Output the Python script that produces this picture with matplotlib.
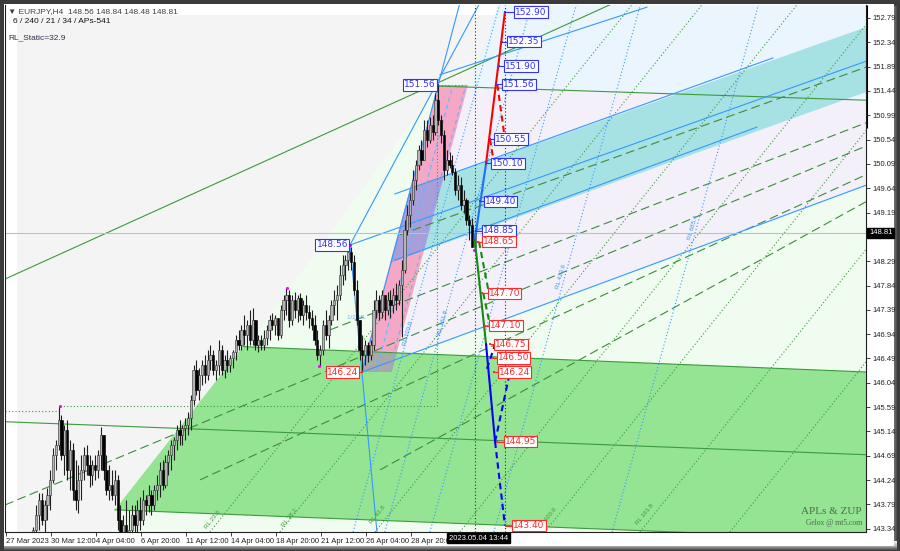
import numpy as np
import matplotlib
matplotlib.use("Agg")
import matplotlib.pyplot as plt
from matplotlib.patches import Polygon, Rectangle
from matplotlib.colors import LinearSegmentedColormap

plt.rcParams['font.family'] = ['Liberation Sans', 'DejaVu Sans']

# ---------------- data ----------------
first_open = 143.00
close = [143.05,143.12,143.00,143.10,143.18,143.08,143.15,143.05,143.20,143.32,
 143.60,143.875,143.51,143.78,143.97,144.245,144.71,144.89,145.355,144.71,
 145.17,144.43,144.80,144.06,143.875,144.245,144.43,144.71,144.52,144.34,
 144.52,144.43,144.71,145.08,144.43,144.06,144.15,143.97,144.245,143.51,
 143.23,143.41,143.23,143.32,143.60,143.41,143.69,143.51,143.875,143.78,
 143.97,143.78,144.06,144.15,144.43,144.15,144.58,144.71,144.89,144.985,
 145.17,145.08,145.21,145.26,145.39,145.725,146.28,145.91,146.19,146.37,
 146.19,146.465,146.56,146.28,146.37,146.65,146.28,146.465,146.37,146.50,
 146.61,146.835,146.74,147.02,146.93,147.11,146.835,147.205,146.74,146.835,
 146.74,146.87,147.02,147.205,147.11,147.24,146.93,147.39,147.575,147.67,
 147.205,147.575,147.39,147.61,147.30,147.48,147.35,147.24,147.11,146.835,
 146.56,146.65,147.11,146.93,147.205,147.48,147.575,147.67,148.04,148.22,
 148.31,148.46,148.28,147.76,147.205,146.65,146.56,146.74,146.56,146.74,
 147.39,147.575,147.35,147.67,147.39,147.575,147.48,147.67,147.575,147.85,
 148.13,148.87,149.15,149.42,149.79,150.07,150.35,150.16,150.72,150.53,
 150.81,150.68,151.27,150.90,150.63,149.98,150.16,150.07,149.94,149.61,
 149.70,149.33,149.42,149.05,148.96,148.56,148.81]
high = [143.20,143.22,143.15,143.22,143.26,143.20,143.24,143.18,143.26,143.38,
 143.78,144.01,144.01,143.875,144.10,144.43,144.84,144.985,145.61,145.45,
 145.26,145.355,144.985,144.93,144.615,144.52,144.71,144.86,144.89,144.71,
 144.615,144.71,144.80,145.23,145.08,144.71,144.52,144.43,144.43,144.34,
 143.78,143.60,143.875,143.69,143.78,143.78,143.875,143.93,144.06,143.97,
 144.15,144.06,144.15,144.34,144.58,144.615,144.71,144.80,144.985,145.04,
 145.26,145.355,145.26,145.39,145.50,145.82,146.37,146.465,146.32,146.465,
 146.56,146.65,146.74,146.65,146.465,146.835,146.74,146.56,146.65,146.56,
 146.65,146.93,147.02,147.11,147.30,147.205,147.39,147.43,147.205,146.93,
 146.93,147.02,147.11,147.30,147.33,147.30,147.24,147.48,147.67,147.80,
 147.76,147.67,147.72,147.67,147.70,147.575,147.67,147.48,147.39,147.30,
 147.02,146.74,147.205,147.39,147.30,147.575,147.76,147.85,148.22,148.41,
 148.41,148.54,148.56,148.41,147.945,147.205,146.93,146.835,146.80,146.835,
 147.575,147.76,147.67,147.76,147.67,147.72,147.76,147.80,147.89,147.945,
 148.31,149.05,149.33,149.55,149.98,150.16,150.44,150.53,150.90,150.90,
 150.96,151.00,151.40,151.56,151.00,150.72,150.35,150.31,150.26,150.02,
 149.89,149.85,149.61,149.46,149.15,149.09,148.84]
low = [142.90,142.95,142.85,142.92,143.00,142.95,142.98,142.90,143.00,143.05,
 143.14,143.32,143.41,143.23,143.51,143.69,144.19,144.43,144.80,144.615,
 144.34,144.245,144.06,143.875,143.69,143.64,143.875,144.245,144.34,144.12,
 144.15,144.245,144.28,144.43,144.245,143.97,143.875,143.875,143.78,143.32,
 143.04,143.04,143.14,143.04,143.14,143.23,143.14,143.32,143.41,143.60,
 143.65,143.60,143.69,143.875,143.93,144.06,144.10,144.34,144.43,144.615,
 144.80,144.89,144.89,144.985,145.08,145.17,145.63,145.82,145.725,146.00,
 146.04,146.095,146.28,146.19,146.095,146.19,146.19,146.13,146.24,146.24,
 146.32,146.465,146.65,146.65,146.74,146.65,146.74,146.74,146.65,146.61,
 146.65,146.65,146.74,146.835,147.02,146.93,146.835,146.87,147.205,147.30,
 147.08,147.11,147.24,147.17,147.205,147.11,147.205,147.06,147.02,146.74,
 146.465,146.35,146.56,146.835,146.69,147.11,147.30,147.205,147.575,147.85,
 147.945,148.13,148.13,147.67,147.11,146.465,146.24,146.37,146.43,146.465,
 146.65,147.24,147.205,147.24,147.205,147.30,147.24,147.33,147.39,147.48,
 146.89,148.07,148.78,148.92,149.33,149.61,149.98,150.07,150.16,150.41,
 150.48,150.53,150.63,150.81,150.48,149.79,149.89,150.02,149.89,149.52,
 149.42,149.24,149.18,148.96,148.68,148.555,148.48]

price_ticks = [143.34,143.79,144.24,144.69,145.14,145.59,146.04,146.49,146.94,147.39,
               147.84,148.29,148.74,149.19,149.64,150.09,150.54,150.99,151.44,151.89,
               152.34,152.79]
hidden_tick = 148.74   # covered by the current-price box
time_ticks = [-0.7, 15.3, 31.3, 47.3, 63.3, 79.3, 95.3, 111.3, 127.3, 143.3]
time_labels = ['27 Mar 2023', '30 Mar 12:00', '4 Apr 04:00', '6 Apr 20:00', '11 Apr 12:00',
               '14 Apr 04:00', '18 Apr 20:00', '21 Apr 12:00', '26 Apr 04:00', '28 Apr 20:00']
last_price = 148.81
x_range = (-1.07, 305.1)
y_range = (143.28, 153.03)

# zones (bar, price)
zone_grey = [(3.2, 142.9), (3.2, 152.85), (310, 152.85), (310, 142.9)]
zone_lightgreen = [(30.9, 142.9), (152.9, 151.53), (310, 151.53), (310, 142.9)]
zone_lavender = [(138.3, 146.50), (163.6, 151.53), (310, 151.26), (310, 149.79)]
zone_lightblue = [(163.6, 151.53), (175.0, 153.1), (310, 153.1), (310, 151.26)]
zone_green = [(38.0, 143.69), (83.6, 146.71), (310, 146.23), (310, 143.13)]
zone_cyan = [(143.0, 149.635), (310, 152.71), (310, 151.51), (135.9, 148.26)]
zone_pink = [(127.3, 146.60), (138.3, 146.60), (163.6, 151.55), (152.9, 151.55)]
zone_grey_box = [(125.5, 146.24), (136.5, 146.24), (138.3, 146.60), (127.3, 146.60)]

green_solid = [[(-1.07, 147.96), (216, 153.08)],
               [(152.9, 151.53), (310, 151.26)],
               [(83.6, 146.71), (310, 146.23)],
               [(-1.07, 145.32), (310, 144.70)],
               [(38.0, 143.69), (310, 143.13)]]
green_dotted = [[(-1.07, 145.52), (18.5, 145.52)],
                [(18.5, 145.61), (152.5, 145.61)],
                [(152.5, 145.61), (152.5, 151.53)],
                [(152.9, 151.55), (163.6, 151.55)],
                [(71.8, 143.28), (221.8, 153.03)],
                [(96.7, 143.28), (246.7, 153.03)],
                [(130.5, 143.28), (280.5, 153.03)],
                [(160.7, 143.28), (310.7, 153.03)],
                [(190.9, 143.28), (340.9, 153.03)],
                [(224.7, 143.28), (374.7, 153.03)],
                [(256.7, 143.28), (406.7, 153.03)]]
green_dashed = [[(139.4, 148.78), (305.1, 151.88)],
                [(114.5, 147.02), (305.1, 150.85)],
                [(-1.07, 143.78), (305.1, 150.42)],
                [(68.3, 144.245), (305.1, 149.89)],
                [(132.3, 144.43), (305.1, 149.39)]]
blue_solid = [[(125.9, 146.24), (160.5, 153.03)],
              [(121.6, 148.59), (167.4, 153.03)],
              [(121.6, 148.59), (131.2, 143.28)],
              [(121.6, 148.59), (310, 152.08)],
              [(137.6, 149.535), (272.0, 152.05)],
              [(137.6, 148.31), (266.3, 150.77)],
              [(125.9, 146.24), (310, 149.79)],
              [(153.6, 151.74), (227.2, 152.99)]]
blue_dotted = [[(122.7, 143.28), (174.75, 153.03)],
               [(134.0, 143.28), (186.05, 153.03)],
               [(150.0, 143.28), (202.05, 153.03)],
               [(172.8, 143.28), (224.85, 153.03)],
               [(214.8, 143.28), (266.85, 153.03)]]
blue_dashed = [[(130.8, 146.24), (158.2, 151.55)],
               [(135.4, 146.24), (162.8, 151.55)]]

# zigzag projection legs
zz_blue_up = [(166.0, 148.68), (170.0, 150.10)]
zz_red_up = [(170.0, 150.10), (176.7, 152.90)]
zz_red_dashed = [[(171.4, 150.55), (172.8, 150.10)], [(174.0, 151.56), (176.7, 150.55)]]
zz_green_down = [(166.0, 148.68), (170.0, 146.75)]
zz_green_dashed = [[(167.5, 148.65), (171.0, 147.70)], [(169.0, 147.70), (171.4, 147.10)]]
zz_blue_down = [(170.0, 146.75), (173.2, 144.95)]
zz_blue_dashed = [[(173.2, 144.95), (176.7, 143.40)], [(173.2, 144.95), (178.5, 146.24)],
                  [(170.3, 146.30), (173.2, 146.75)]]

# level labels: (text, anchor bar, label bar, price, colour)
level_labels = [('152.90', 176.7, 180.3, 152.90, 'b'), ('152.35', 175.5, 177.8, 152.35, 'b'),
                ('151.90', 174.5, 176.7, 151.90, 'b'), ('151.56', 173.7, 176.0, 151.56, 'b'),
                ('150.55', 171.5, 173.2, 150.55, 'b'), ('150.10', 170.0, 172.1, 150.10, 'b'),
                ('149.40', 168.0, 169.6, 149.40, 'b'), ('148.85', 166.3, 168.9, 148.85, 'b'),
                ('148.65', 167.0, 168.9, 148.65, 'r'), ('147.70', 168.5, 171.0, 147.70, 'r'),
                ('147.10', 169.5, 171.4, 147.10, 'r'), ('146.75', 171.5, 173.2, 146.75, 'r'),
                ('146.50', 172.5, 174.2, 146.50, 'r'), ('146.24', 172.7, 174.6, 146.24, 'r'),
                ('144.95', 174.0, 176.7, 144.95, 'r'), ('143.40', 177.0, 179.6, 143.40, 'r')]
left_labels = [('151.56', 152.9, 152.2, 151.55, 'b'), ('148.56', 121.6, 120.9, 148.59, 'b'),
               ('146.24', 125.9, 124.4, 146.24, 'r')]
swing_points = [(18.5, 145.61), (99.2, 147.80), (110.6, 146.35), (121.6, 148.59), (165.7, 148.50)]

rl_texts = [('RL 423.6', 196.6, 148.00, 74, '#3399ff'), ('RL 685.4', 243.6, 148.91, 74, '#3399ff'),
            ('RL 100.0', 142.2, 146.96, 74, '#3399ff'), ('RL 161.8', 154.7, 147.15, 74, '#3399ff'),
            ('RL 23.6', 72.9, 143.51, 51, '#3c9a3c'), ('RL 38.2', 100.3, 143.54, 51, '#3c9a3c'),
            ('RL 61.8', 131.6, 143.60, 51, '#3c9a3c'), ('RL 100.0', 192.0, 143.54, 51, '#3c9a3c'),
            ('RL 161.8', 226.5, 143.60, 51, '#3c9a3c'), ('1/2 ML', 124.0, 147.25, 0, '#66b3ff')]

# ---------------- figure ----------------
W, H = 900, 551
fig = plt.figure(figsize=(9.0, 5.51), dpi=100)
fig.patch.set_facecolor('#3b3b3b')

bg = fig.add_axes([0, 0, 1, 1], zorder=0)
bg.axis('off')
bg.add_patch(Rectangle((4, 4), 890, 542, fc='white', ec='none'))
g = np.linspace(0, 1, 64)
cm_r = LinearSegmentedColormap.from_list('r', ['#f6f6f6', '#d6d6d6', '#909090', '#4a4a4a'])
bg.imshow(g[None, :], extent=(883, 897, 548, 6), cmap=cm_r, aspect='auto')
cm_b = LinearSegmentedColormap.from_list('b', ['#f0f0f0', '#bcbcbc', '#4a4a4a'])
bg.imshow(g[:, None], extent=(4, 897, 550, 541), cmap=cm_b, aspect='auto')
bg.plot([866, 866], [5, 128], color='black', lw=2.2, solid_capstyle='butt')
bg.set_xlim(0, W); bg.set_ylim(H, 0)

ax = fig.add_axes([5 / W, 19 / H, 861 / W, 527 / H], zorder=1)
ax.set_xlim(*x_range); ax.set_ylim(*y_range)
ax.set_facecolor('white')

def poly(pts, fc, z, **kw):
    p = Polygon(pts, closed=True, fc=fc, ec='none', zorder=z, **kw)
    ax.add_patch(p)
    return p

poly(zone_grey, '#f4f4f4', 0.1)
poly(zone_lightgreen, '#effcef', 0.2)
poly(zone_lavender, '#f3f0f9', 0.3)
poly(zone_lightblue, '#ebf5fd', 0.3)
poly(zone_green, '#94e494', 0.4)
poly(zone_cyan, '#a6e2e4', 0.5)
pink = poly(zone_pink, '#f5a8c6', 0.6)
purple = poly(zone_cyan, '#a89ed9', 0.7)
purple.set_clip_path(pink)
poly(zone_grey_box, '#a9a9a9', 0.6)

def segs(lst, **kw):
    for s in lst:
        xs, ys = zip(*s)
        ax.plot(xs, ys, **kw)

segs(green_solid, color='#3c9a3c', lw=0.8, zorder=1)
segs(green_dotted, color='#3c9a3c', lw=0.8, ls=(0, (1, 2)), zorder=1)
segs(green_dashed, color='#3c8c3c', lw=0.8, ls=(0, (8, 4)), zorder=1)
segs(blue_solid, color='#3399ff', lw=0.8, zorder=1.1)
segs(blue_dotted, color='#3399ff', lw=0.8, ls=(0, (1, 2)), zorder=1.1)
segs(blue_dashed, color='#66b3ff', lw=0.8, ls=(0, (4, 3)), zorder=1.1)

ax.axhline(last_price, color='#c0c0c0', lw=0.8, zorder=1.2)
for xv in (166.0, 176.7):
    ax.axvline(xv, color='#303030', lw=0.8, ls=(0, (1, 2)), zorder=1.2)

# candles
cl = np.array(close); hi = np.array(high); lo = np.array(low)
op = np.concatenate([[first_open], cl[:-1]])
idx = np.arange(len(cl))
ax.vlines(idx, lo, hi, color='#202020', lw=0.8, zorder=2)
up = cl >= op
ax.bar(idx[up], (cl - op)[up], bottom=op[up], width=0.8, color='#b4b4b4', edgecolor='#303030', linewidth=0.4, zorder=2.1)
ax.bar(idx[~up], (op - cl)[~up], bottom=cl[~up], width=0.8, color='#000000', edgecolor='#000000', linewidth=0.4, zorder=2.1)
sx, sy = zip(*swing_points)
ax.scatter(sx, sy, s=5, color='#ff00ff', zorder=2.5, linewidths=0)

# zigzag
def leg(pts, color, ls='-'):
    xs, ys = zip(*pts)
    ax.plot(xs, ys, color=color, lw=1.5, ls=ls, zorder=3)
leg(zz_blue_up, '#1e6fff')
leg(zz_red_up, '#ff0000')
for s in zz_red_dashed:
    leg(s, '#ff0000', (0, (3, 2)))
leg(zz_green_down, '#138a13')
for s in zz_green_dashed:
    leg(s, '#138a13', (0, (3, 2)))
leg(zz_blue_down, '#0000ff')
for s in zz_blue_dashed:
    leg(s, '#0000ff', (0, (3, 2)))

def level_label(txt, xa, xl, p, c, ha='left'):
    col = '#3333ff' if c == 'b' else '#ff2a2a'
    ax.plot([xa, xl], [p, p], color=col, lw=0.8, zorder=3.5)
    ax.scatter([xa], [p], s=4, marker='s', color=col, zorder=3.5, linewidths=0)
    ax.text(xl, p, txt, ha=ha, va='center', fontsize=6.5, color=col, family=['DejaVu Sans'], zorder=4,
            bbox=dict(boxstyle='square,pad=0.12', fc='white', ec=col, lw=0.8))

for t in level_labels:
    level_label(*t)
for t in left_labels:
    level_label(*t, ha='right')

for txt, xx, yy, rot, col in rl_texts:
    ax.text(xx, yy, txt, rotation=rot, fontsize=4.5, color=col, ha='center', va='center', zorder=1.5)

# axes styling
ax.spines['top'].set_visible(False)
for s in ('left', 'bottom', 'right'):
    ax.spines[s].set_color('#202020'); ax.spines[s].set_linewidth(0.8)
ax.yaxis.tick_right()
ax.set_yticks(price_ticks)
ax.set_yticklabels(['' if v == hidden_tick else '%.2f' % v for v in price_ticks])
ax.tick_params(axis='y', length=3, width=0.6, pad=1.5, labelsize=5.5, colors='#222222')
ax.set_xticks(time_ticks)
ax.set_xticklabels(time_labels, ha='left')
ax.tick_params(axis='x', length=3, width=0.6, pad=1.0, labelsize=5.5, colors='#222222')

# header & overlays
def ftxt(px, py, s, **kw):
    fig.text(px / W, 1 - py / H, s, **kw)

ftxt(8, 11.5, '\u25bc EURJPY,H4  148.56 148.84 148.48 148.81', fontsize=6, color='#404040', va='center')
bg.plot([10.5, 10.5], [17, 26], color='#c8d040', lw=1.2)
ftxt(13, 21.5, '6 / 240 / 21 / 34 / APs-541', fontsize=6, color='#151515', va='center')
ftxt(8, 38, 'RL_Static=32.9', fontsize=6, color='#303050', va='center')
ftxt(869, 233, '148.81', fontsize=5.5, color='white', va='center', zorder=10,
     bbox=dict(boxstyle='square,pad=0.2', fc='black', ec='black'))
ftxt(449, 538, '2023.05.04 13:44', fontsize=5.5, color='white', va='center', zorder=10,
     bbox=dict(boxstyle='square,pad=0.25', fc='black', ec='black'))
ftxt(862, 512, 'APLs & ZUP', fontsize=8, color='#4d6b4d', ha='right', va='center', family=['Liberation Serif'])
ftxt(862, 523, 'Gelox @ mt5.com', fontsize=5.5, color='#4d6b4d', ha='right', va='center', family=['Liberation Serif'])

fig.savefig('out.png', dpi=100, facecolor=fig.get_facecolor())
